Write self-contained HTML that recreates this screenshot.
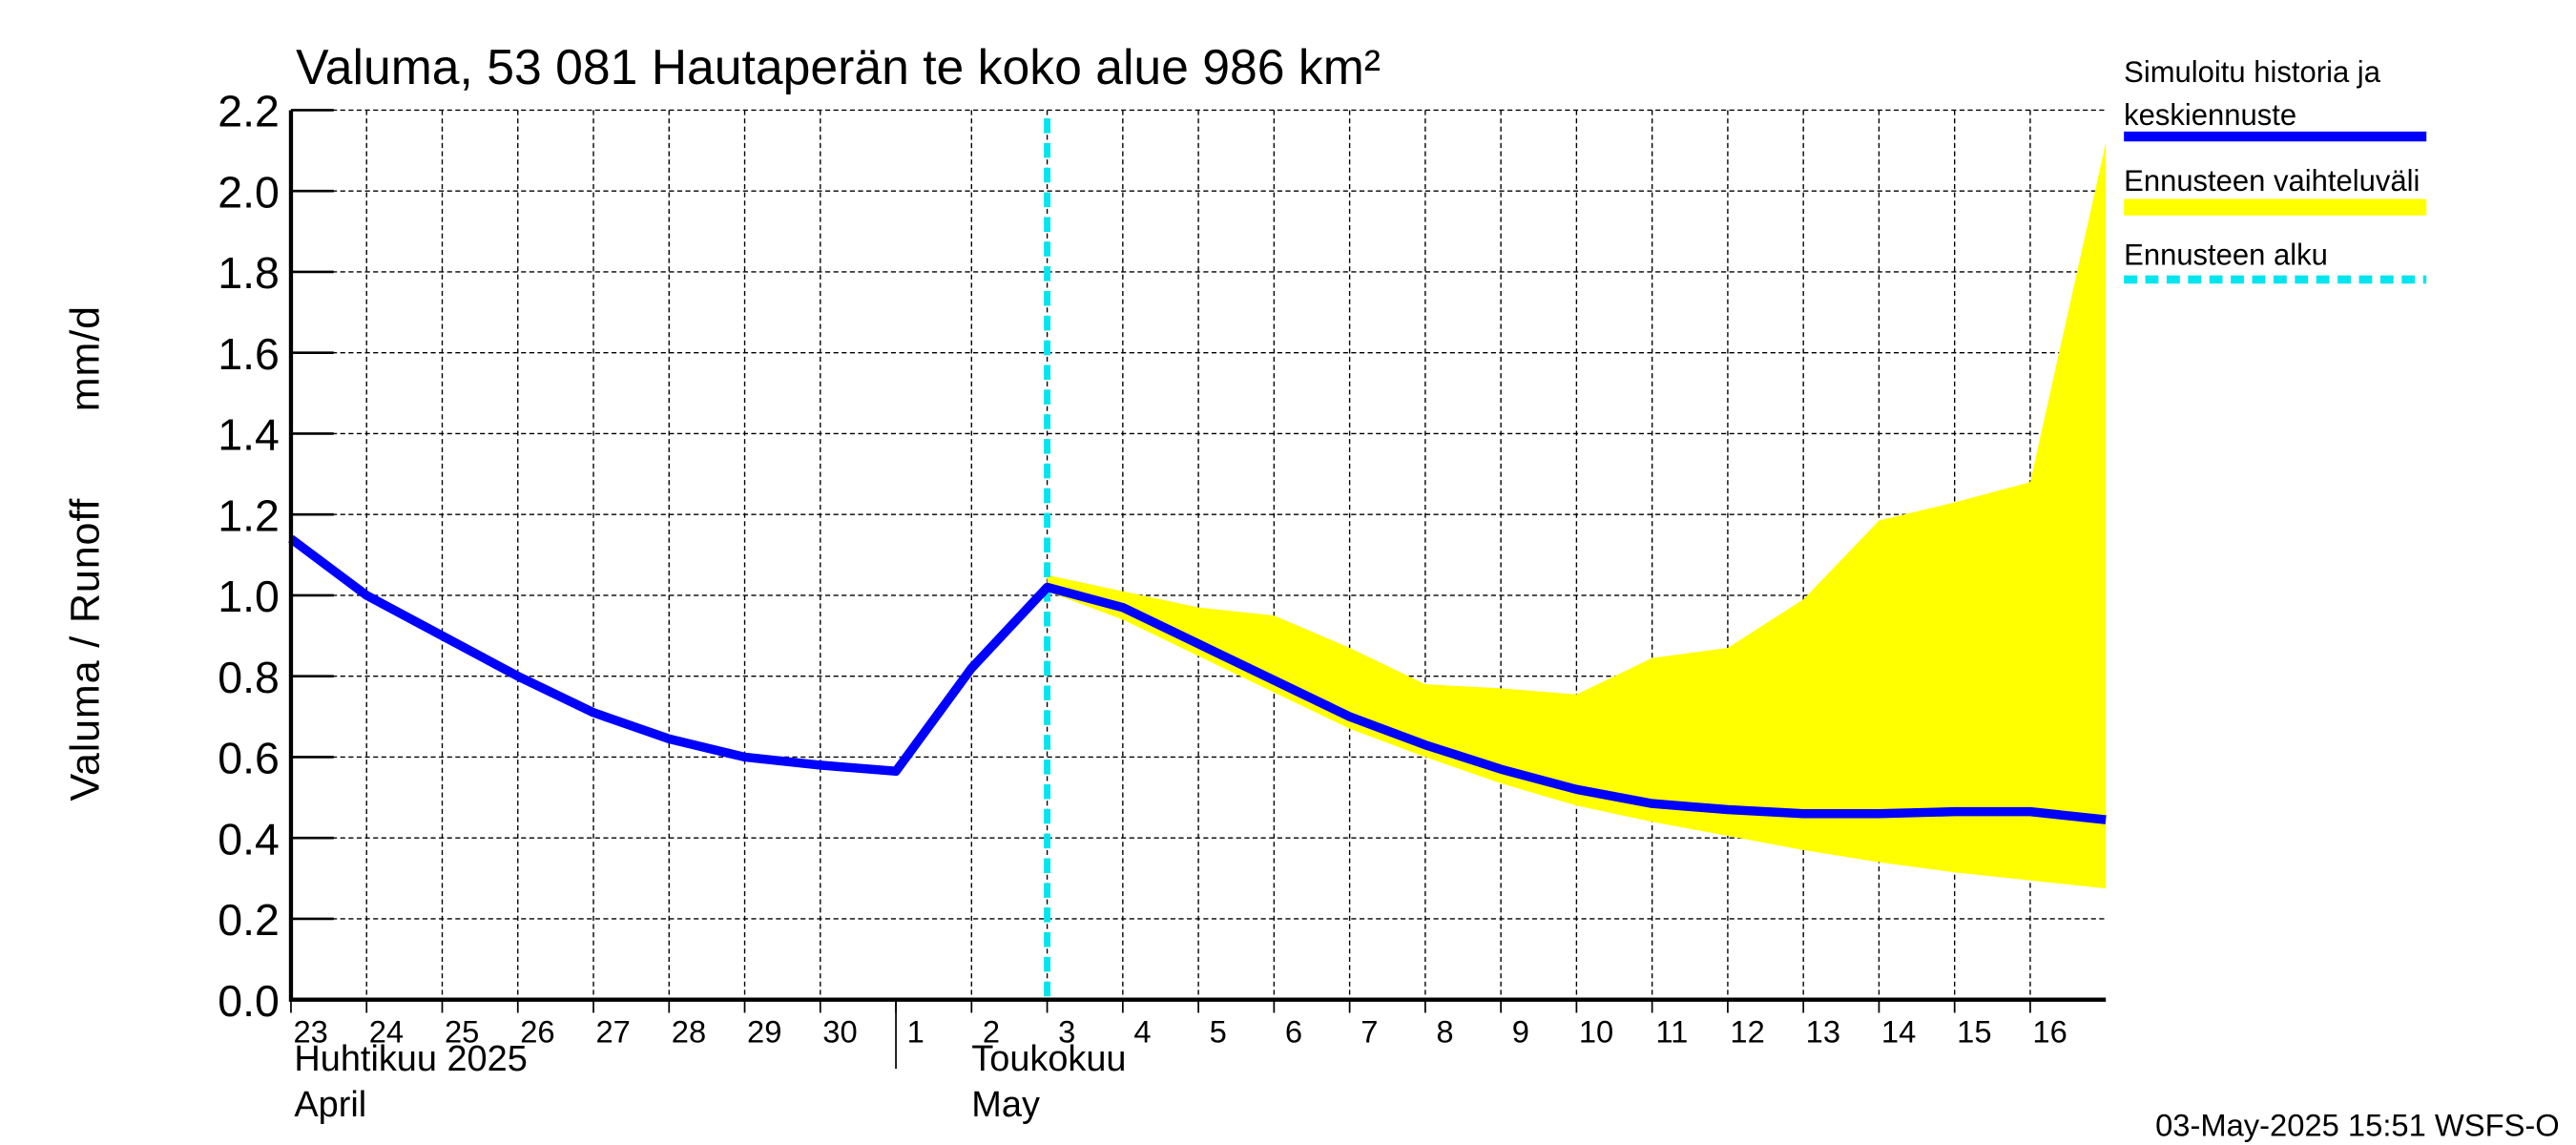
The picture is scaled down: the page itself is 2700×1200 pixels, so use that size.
<!DOCTYPE html>
<html><head><meta charset="utf-8"><style>html,body{margin:0;padding:0;background:#fff}svg{display:block}text{font-family:"Liberation Sans",sans-serif}</style></head>
<body>
<svg id="chart" width="2700" height="1200" viewBox="0 0 1567 696.4" preserveAspectRatio="none" xmlns="http://www.w3.org/2000/svg">
<rect x="0" y="0" width="1567" height="700" fill="#fff"/>
<text x="180" y="51" font-size="30">Valuma, 53 081 Hautaperän te koko alue 986 km²</text>
<text transform="translate(60,395) rotate(-90)" text-anchor="middle" font-size="25" letter-spacing="0.5">Valuma / Runoff</text>
<text transform="translate(60,218) rotate(-90)" text-anchor="middle" font-size="25" letter-spacing="0.5">mm/d</text>
<g id="grid"></g><g id="marks"></g><g id="axes"></g>
<g>
<text x="1292" y="50" font-size="18">Simuloitu historia ja</text>
<text x="1292" y="76" font-size="18">keskiennuste</text>
<line x1="1292" y1="83" x2="1476" y2="83" stroke="#0000ff" stroke-width="6"/>
<text x="1292" y="116" font-size="18">Ennusteen vaihteluväli</text>
<line x1="1292" y1="126" x2="1476" y2="126" stroke="#ffff00" stroke-width="10"/>
<text x="1292" y="161" font-size="18">Ennusteen alku</text>
<line x1="1292" y1="170" x2="1476" y2="170" stroke="#00e5ee" stroke-width="5" stroke-dasharray="8,5"/>
</g>
<text x="1557" y="691" text-anchor="end" font-size="19">03-May-2025 15:51 WSFS-O</text>
</svg>
<script>
const dayLabels=["23","24","25","26","27","28","29","30","1","2","3","4","5","6","7","8","9","10","11","12","13","14","15","16"];
const yTicks=[0,0.2,0.4,0.6,0.8,1.0,1.2,1.4,1.6,1.8,2.0,2.2];
const simValues=[1.14,1.00,0.90,0.80,0.71,0.645,0.60,0.58,0.565,0.82,1.02,0.97,0.88,0.79,0.70,0.63,0.57,0.52,0.485,0.47,0.46,0.46,0.465,0.465,0.445];
const bandStart=10;
const bandUpper=[1.05,1.01,0.97,0.95,0.87,0.78,0.77,0.755,0.845,0.87,0.99,1.185,1.23,1.28,2.12];
const bandLower=[1.01,0.94,0.85,0.76,0.67,0.60,0.535,0.48,0.44,0.405,0.37,0.34,0.315,0.295,0.275];
const forecastStart=10;
const X0=177,X1=1281,Y0=608,Y1=67,ND=24;
const xs=i=>X0+(X1-X0)*i/ND, ys=v=>Y0-(Y0-Y1)*v/2.2;
const NS="http://www.w3.org/2000/svg";
function mk(p,tag,a){const e=document.createElementNS(NS,tag);for(const k in a)e.setAttribute(k,a[k]);p.appendChild(e);return e;}
const grid=document.getElementById('grid'),marks=document.getElementById('marks'),axes=document.getElementById('axes');
yTicks.forEach(v=>{const l=mk(grid,'line',{x1:X0,x2:X1,y1:ys(v),y2:ys(v),stroke:'#000','stroke-width':0.8,'stroke-dasharray':'3,2'});

const t=mk(axes,'text',{x:170,y:ys(v)+10,'text-anchor':'end','font-size':27});t.textContent=v.toFixed(1);

const tk=mk(axes,'line',{x1:X0,x2:X0+26,y1:ys(v),y2:ys(v),stroke:'#000','stroke-width':1.5});
});
for(let i=1;i<ND;i++){if(i===8)continue;const l=mk(grid,'line',{x1:xs(i),x2:xs(i),y1:Y1,y2:Y0,stroke:'#000','stroke-width':0.8,'stroke-dasharray':'3,2'});
}
let pts='';bandUpper.forEach((v,i)=>pts+=xs(bandStart+i)+','+ys(v)+' ');
for(let i=bandLower.length-1;i>=0;i--)pts+=xs(bandStart+i)+','+ys(bandLower[i])+' ';
const band=mk(marks,'polygon',{points:pts,fill:'#ffff00'});

const fl=mk(marks,'line',{x1:xs(forecastStart),x2:xs(forecastStart),y1:Y1+5,y2:Y0,stroke:'#00e5ee','stroke-width':4,'stroke-dasharray':'9,6'});

const sim=mk(marks,'polyline',{points:simValues.map((v,i)=>xs(i)+','+ys(v)).join(' '),fill:'none',stroke:'#0000ff','stroke-width':5.5,'stroke-linejoin':'round'});

const ax=mk(axes,'polyline',{points:`${X0},${Y1} ${X0},${Y0} ${X1},${Y0}`,fill:'none',stroke:'#000','stroke-width':2.5});

dayLabels.forEach((d,i)=>{const t=mk(axes,'text',{x:xs(i)+12,y:Y0+26,'text-anchor':'middle','font-size':19});t.textContent=d;

const tk=mk(axes,'line',{x1:xs(i),x2:xs(i),y1:Y0,y2:Y0+8,stroke:'#000','stroke-width':1});
});
const sep=mk(axes,'line',{x1:xs(8),x2:xs(8),y1:Y0,y2:650,stroke:'#000','stroke-width':1});

[["Huhtikuu  2025",179,651],["April",179,679],["Toukokuu",591,651],["May",591,679]].forEach(a=>{const t=mk(axes,'text',{x:a[1],y:a[2],'font-size':22,'xml:space':'preserve'});t.textContent=a[0];
});
</script>
</body></html>
